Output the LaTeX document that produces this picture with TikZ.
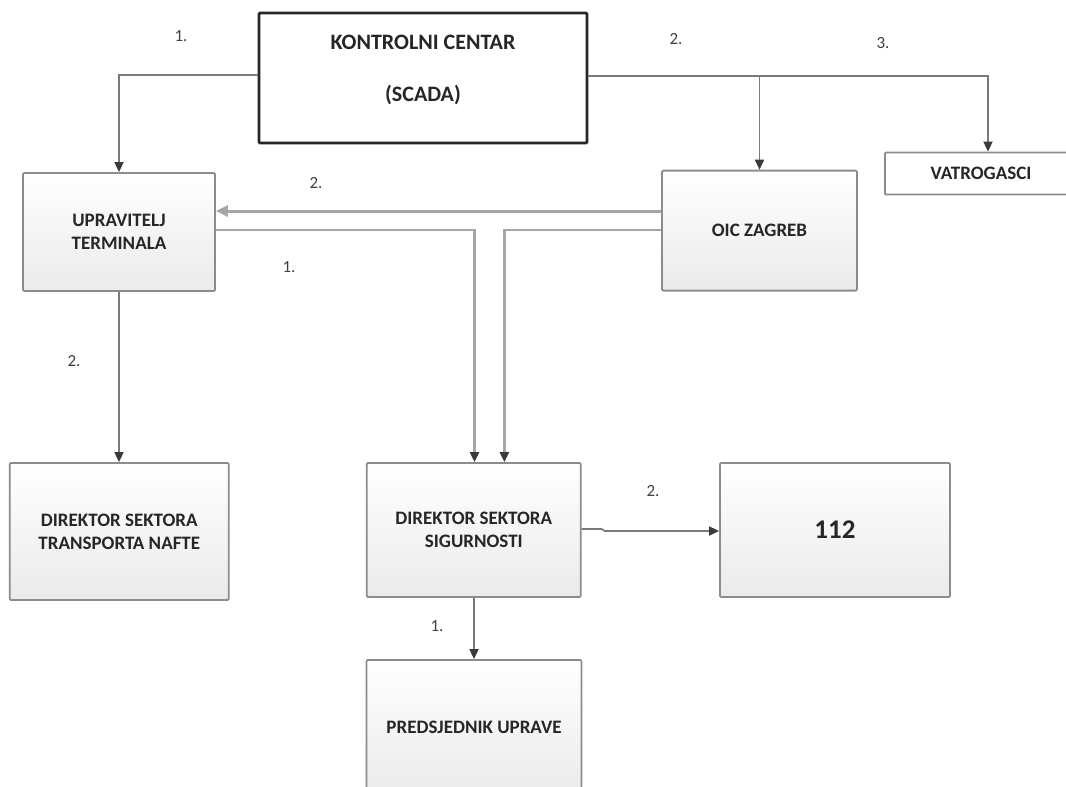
\documentclass[tikz,border=0pt]{standalone}
\usepackage{fontspec}
\setmainfont{Carlito}
\usetikzlibrary{arrows.meta}
\definecolor{txt}{HTML}{262626}
\definecolor{lbl}{HTML}{404040}
\definecolor{edge}{HTML}{8C8C8C}
\definecolor{wire}{HTML}{7A7A7A}
\definecolor{lightwire}{HTML}{A6A6A6}
\definecolor{tipc}{HTML}{3A3A3A}
\tikzset{
  box/.style={draw=edge, line width=1.8pt, rounded corners=1.2pt, top color=white, bottom color=black!8,
    align=center, text=txt, font=\fontsize{19}{23}\selectfont\bfseries, inner sep=0pt},
  plainbox/.style={draw=edge, line width=1.8pt, rounded corners=1pt, fill=white,
    align=center, text=txt, font=\fontsize{19}{23}\selectfont\bfseries, inner sep=0pt},
  kcbox/.style={draw=black!85, line width=2.6pt, rounded corners=1pt, fill=white, inner sep=0pt},
  steplbl/.style={text=lbl, font=\fontsize{17}{20}\selectfont, inner sep=0pt},
  conn/.style={draw=wire, line width=1.7pt, -{Triangle[length=10pt,width=9pt,color=tipc]}},
  conn2/.style={draw=lightwire, line width=2.4pt, -{Triangle[length=10pt,width=9pt,color=tipc]}},
  conn3/.style={draw=lightwire, line width=3pt, -{Triangle[length=12pt,width=11pt,color=lightwire]}},
}
\begin{document}
\begin{tikzpicture}[x=1pt,y=-1pt]
\clip (0,0) rectangle (1066,787);
\fill[white] (0,0) rectangle (1066,787);

% nodes
\node[kcbox, minimum width=328pt, minimum height=130pt] (kc) at (423,78) {};
\node[text=txt, font=\fontsize{22}{26}\selectfont\bfseries, align=center, inner sep=0pt]
  (kctext) at ([yshift=8.5pt]kc.center) {KONTROLNI CENTAR\\[26pt](SCADA)};

\node[box, minimum width=192pt, minimum height=118pt] (upr) at (119,232) {UPRAVITELJ\\TERMINALA};
\node[box, minimum width=195pt, minimum height=120pt] (oic) at (759.5,230.6) {OIC ZAGREB};
\node[plainbox, minimum width=210pt, minimum height=42pt] (vat) at (990,173.5) {\hspace*{-18pt}VATROGASCI};
\node[box, minimum width=219pt, minimum height=137pt] (dtn) at (119.3,531.5) {DIREKTOR SEKTORA\\TRANSPORTA NAFTE};
\node[box, minimum width=214pt, minimum height=134pt] (dss) at (473.8,530) {DIREKTOR SEKTORA\\SIGURNOSTI};
\node[box, minimum width=230pt, minimum height=134pt, font=\fontsize{27}{30}\selectfont\bfseries] (n112) at (835,530) {112};
\node[box, minimum width=215pt, minimum height=134pt] (pu) at (474,727) {PREDSJEDNIK UPRAVE};

% step labels
\node[steplbl] (l1) at (181,36) {1.};
\node[steplbl] (l2) at (316,183) {2.};
\node[steplbl] (l3) at (289,267) {1.};
\node[steplbl] (l4) at (676,39) {2.};
\node[steplbl] (l5) at (883,43) {3.};
\node[steplbl] (l6) at (74,361) {2.};
\node[steplbl] (l7) at (437,626) {1.};
\node[steplbl] (l8) at (653,491) {2.};

% connectors
\draw[conn] ([yshift=3pt]kc.west) -| (upr.north);
\draw[conn] ([yshift=2pt]kc.east) -| (oic.north);
\draw[conn] ([yshift=2pt]kc.east -| oic.north) -| ([xshift=-2pt]vat.north);
\draw[conn3] ([yshift=19.6pt]oic.west) -- ([yshift=19.6pt]oic.west -| upr.east);
\draw[conn2] ([yshift=2pt]upr.east) -| ([xshift=0.7pt]dss.north);
\draw[conn2] ([yshift=0.6pt]oic.west) -| ([xshift=30.6pt]dss.north);
\draw[conn] (upr.south) -- (dtn.north -| upr.south);
\draw[conn] ([yshift=1pt]dss.east) -- ++(20,0) -- ++(3,2) coordinate (jg) -- (jg -| n112.west);
\draw[conn] (dss.south -| pu.north) -- (pu.north);
\end{tikzpicture}
\end{document}
